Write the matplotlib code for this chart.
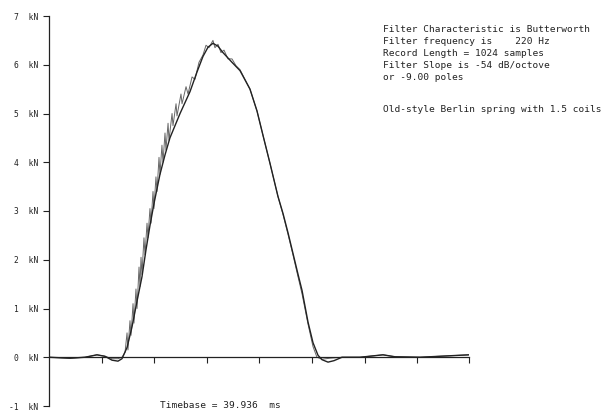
import numpy as np
import matplotlib
matplotlib.use("Agg")
import matplotlib.pyplot as plt

# time in ms, force in kN
filt_t = [0.0, 2.0, 3.42, 4.56, 5.32, 5.99, 6.56, 6.94, 7.42, 7.89, 8.37, 8.84, 9.22, 9.6,
          9.98, 10.55, 11.03, 11.5, 12.46, 13.41, 14.07, 14.64, 15.12, 15.59, 16.07, 16.54,
          17.4, 18.16, 19.11, 19.78, 20.35, 21.01, 21.77, 22.25, 22.73, 23.2, 23.68, 24.06,
          24.63, 25.1, 25.58, 25.96, 26.53, 27.1, 27.86, 29.57, 31.76, 32.9, 35.28, 39.936]
filt_f = [0.0, -0.02, 0.0, 0.05, 0.02, -0.06, -0.08, -0.03, 0.2, 0.62, 1.15, 1.65, 2.2, 2.7,
          3.15, 3.75, 4.15, 4.5, 5.0, 5.45, 5.85, 6.17, 6.36, 6.44, 6.38, 6.25,
          6.05, 5.88, 5.5, 5.05, 4.55, 3.98, 3.3, 2.95, 2.55, 2.13, 1.7, 1.37,
          0.72, 0.3, 0.04, -0.05, -0.1, -0.07, 0.0, 0.0, 0.05, 0.01, 0.0, 0.05]

raw_t = [0.0, 2.0, 3.42, 4.56, 5.32, 5.99, 6.56, 6.94, 7.23, 7.42, 7.51, 7.7, 7.8, 7.99, 8.08,
         8.27, 8.37, 8.56, 8.65, 8.75, 8.84, 9.03, 9.13, 9.32, 9.41, 9.6, 9.7, 9.89, 9.98,
         10.17, 10.27, 10.46, 10.55, 10.74, 10.84, 11.03, 11.12, 11.32, 11.41, 11.7, 11.79,
         12.08, 12.17, 12.55, 12.65, 13.03, 13.22, 13.6, 13.88, 14.26, 14.64, 14.93, 15.21,
         15.59, 15.78, 16.07, 16.35, 16.64, 17.02, 17.4, 17.78, 18.16, 19.11, 19.78, 20.35,
         21.01, 21.77, 22.25, 22.73, 23.2, 23.68, 24.06, 24.63, 25.1, 25.48, 25.96, 26.72,
         27.86, 29.57, 31.76, 32.9, 35.28, 39.936]
raw_f = [0.0, -0.02, 0.0, 0.05, 0.02, -0.03, -0.03, 0.0, 0.1, 0.5, 0.15, 0.75, 0.45, 1.1, 0.7,
         1.4, 1.0, 1.85, 1.45, 2.05, 1.7, 2.45, 2.1, 2.75, 2.45, 3.05, 2.75, 3.4, 3.05,
         3.7, 3.4, 4.1, 3.75, 4.35, 4.0, 4.6, 4.25, 4.8, 4.45, 5.0, 4.75,
         5.2, 4.95, 5.4, 5.2, 5.55, 5.4, 5.75, 5.7, 6.05, 6.2, 6.4, 6.35,
         6.5, 6.35, 6.42, 6.25, 6.3, 6.12, 6.12, 5.98, 5.9, 5.5, 5.05, 4.55,
         3.98, 3.3, 2.93, 2.52, 2.1, 1.65, 1.3, 0.68, 0.22, 0.0, -0.04, -0.02,
         0.0, 0.0, 0.05, 0.01, 0.0, 0.05]

y_ticks = [-1, 0, 1, 2, 3, 4, 5, 6, 7]
x_ticks = [5, 10, 15, 20, 25, 30, 35, 39.936]

info_lines = ["Filter Characteristic is Butterworth",
              "Filter frequency is    220 Hz",
              "Record Length = 1024 samples",
              "Filter Slope is -54 dB/octove",
              "or -9.00 poles"]
note = "Old-style Berlin spring with 1.5 coils"
timebase = "Timebase = 39.936  ms"

W, H = 603, 412
fig = plt.figure(figsize=(W / 100, H / 100), dpi=100)
ax = fig.add_axes([49 / W, 6 / H, 420 / W, 390 / H])
ax.set_xlim(0, 39.936)
ax.set_ylim(-1, 7)

ink = "#222222"
ax.plot(raw_t, raw_f, color="#666666", lw=0.7)
ax.plot(filt_t, filt_f, color=ink, lw=1.0)

for s in ["top", "right"]:
    ax.spines[s].set_visible(False)
ax.spines["left"].set_color(ink)
ax.spines["left"].set_linewidth(0.9)
ax.spines["bottom"].set_position(("data", 0))
ax.spines["bottom"].set_color(ink)
ax.spines["bottom"].set_linewidth(0.9)

ax.set_yticks(y_ticks)
ax.set_yticklabels([f"{v}  kN" for v in y_ticks], family="DejaVu Sans Mono",
                   fontsize=5.8, color=ink)
ax.tick_params(axis="y", direction="out", length=4, width=0.8, color=ink, pad=4)
ax.set_xticks(x_ticks)
ax.set_xticklabels([])
ax.tick_params(axis="x", direction="out", length=4, width=0.8, color=ink)

tx = dict(family="DejaVu Sans Mono", fontsize=6.8, color=ink, va="center", ha="left")
for i, line in enumerate(info_lines):
    fig.text(383 / W, 1 - (29 + 12 * i) / H, line, **tx)
fig.text(383 / W, 1 - 110 / H, note, **tx)
fig.text(160 / W, 1 - 405 / H, timebase, **tx)

fig.savefig("out.png", dpi=100, facecolor="white")
